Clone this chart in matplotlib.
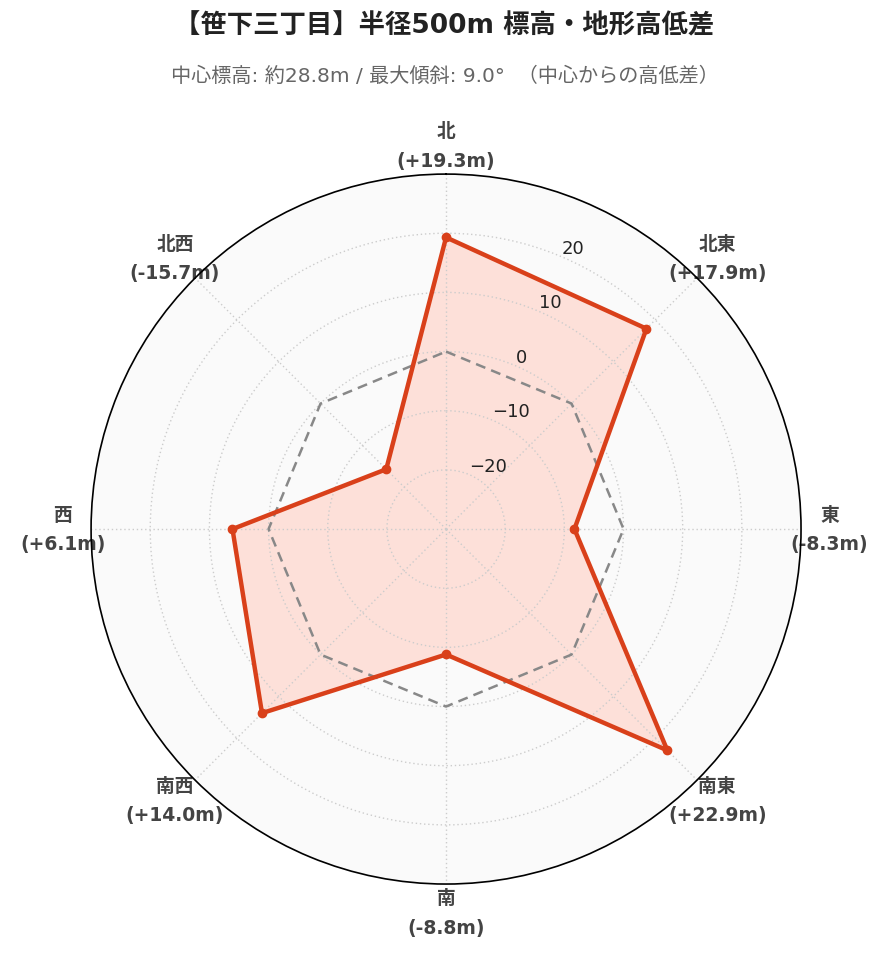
import numpy as np
import matplotlib
matplotlib.use("Agg")
import matplotlib.pyplot as plt

plt.rcParams['font.family'] = ['DejaVu Sans', 'Noto Sans CJK JP']

directions = ["北", "北東", "東", "南東", "南", "南西", "西", "北西"]
values = [19.3, 17.9, -8.3, 22.9, -8.8, 14.0, 6.1, -15.7]
rticks = [-20, -10, 0, 10, 20]
rmin, rmax = -30, 30
title = "【笹下三丁目】半径500m 標高・地形高低差"
subtitle = "中心標高: 約28.8m / 最大傾斜: 9.0°  （中心からの高低差）"

labels = [f"{d}\n({v:+.1f}m)" for d, v in zip(directions, values)]

fig = plt.figure(figsize=(8.89, 9.62), dpi=100)
ax = fig.add_axes([0.1024, 0.0800, 0.7987, 0.738], projection='polar')
ax.set_theta_zero_location('N')
ax.set_theta_direction(-1)
ax.set_facecolor('#fafafa')
ax.set_axisbelow(False)

n = len(values)
theta = np.arange(n) * 2 * np.pi / n
tc = np.append(theta, theta[0])
vc = np.append(values, values[0])

ax.set_ylim(rmin, rmax)
ax.fill(tc, vc, color='#fde0d9', zorder=1)
ax.plot(tc, np.zeros_like(tc), color='#888888', lw=1.8, ls=(0, (4, 2.5)), zorder=3)
ax.plot(tc, vc, color='#d9401a', lw=3.2, zorder=4)
ax.plot(theta, values, 'o', color='#d9401a', ms=6, zorder=5)

ax.set_xticks(theta)
ax.set_xticklabels(labels, fontsize=13.5, fontweight='bold', color='#444444', linespacing=1.7)
ax.tick_params(axis='x', pad=10)
ax.set_yticks(rticks)
ax.set_yticklabels([f"{t}".replace('-', '−') for t in rticks], fontsize=13, color='#222222')
ax.set_rlabel_position(23)
ax.grid(True, color='#cccccc', ls=(0, (1, 2)), lw=1)
ax.spines['polar'].set_color('black')
ax.spines['polar'].set_linewidth(1.2)
ax.spines['polar'].set_zorder(6)

fig.text(0.5, 0.972, title, ha='center', va='center', fontsize=19, fontweight='bold', color='#222222')
fig.text(0.5, 0.921, subtitle, ha='center', va='center', fontsize=14.5, color='#666666')

fig.savefig('out.png', dpi=100)
